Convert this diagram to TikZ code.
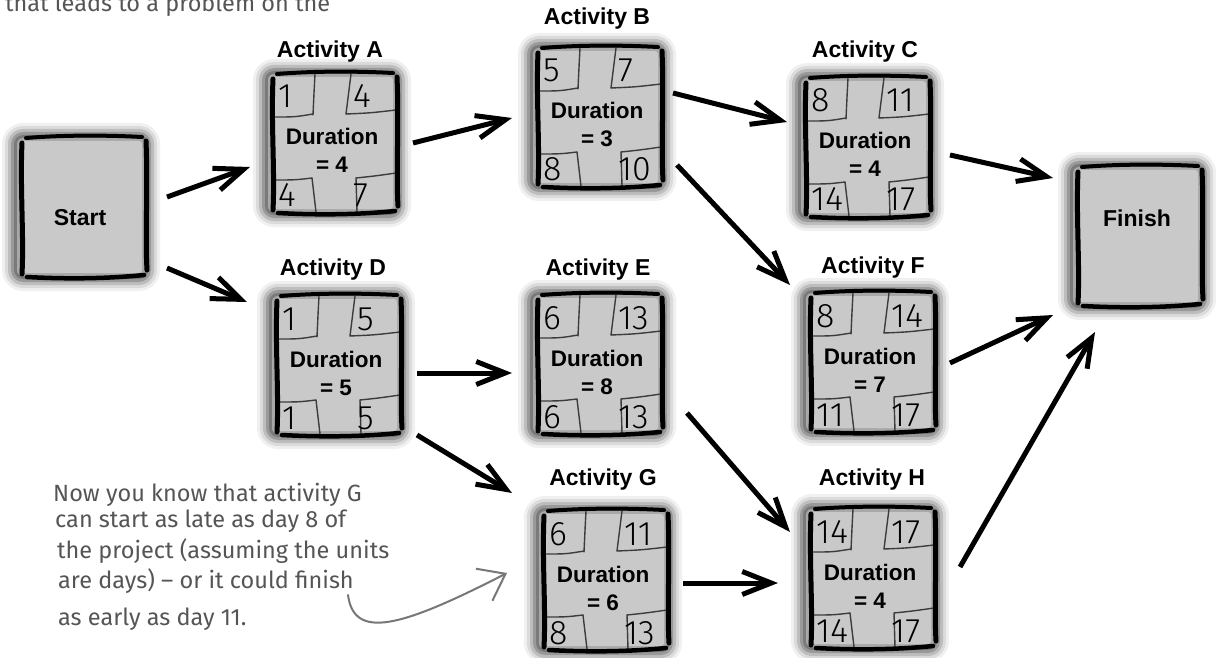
\documentclass[tikz,border=0pt]{standalone}
\usepackage{fontspec}
\setmainfont{Liberation Sans}
\newfontfamily\numfont{Fira Sans Light}
\newfontfamily\handfont{Fira Sans}
\usetikzlibrary{arrows.meta,calc}
\definecolor{boxgray}{HTML}{C9C9C9}
\definecolor{cellline}{HTML}{3C3C3C}
\definecolor{notegray}{HTML}{555555}
\definecolor{notearrow}{HTML}{777777}
\tikzset{
  boxnode/.style={rectangle, draw=none, inner sep=0pt, minimum width=126pt, minimum height=142pt},
  ink/.style={black, line cap=round, line join=round},
  cell/.style={cellline, line width=1.4pt, line cap=round},
  actlab/.style={anchor=base, inner sep=0pt, font=\fontsize{23}{27}\selectfont\bfseries},
  durtxt/.style={anchor=base, inner sep=0pt, font=\fontsize{22.5}{27}\selectfont\bfseries},
  num/.style={anchor=base west, inner sep=0pt, font=\numfont\fontsize{34}{38}\selectfont},
  arr/.style={line width=5pt, -{Straight Barb[length=29pt,width=23pt,line width=5pt]}},
  note/.style={anchor=base west, inner sep=0pt, text=notegray, font=\handfont\fontsize{23.5}{31}\selectfont},
}
\newcommand\pmLayer[2]{% offset, colour
  \fill[fill=#2,rounded corners={8+#1}] (-69-#1,-71-#1) rectangle (63+#1,71+#1);
}
\newcommand\pmBody{%
  \pmLayer{13}{black!6}
  \pmLayer{10}{black!14}
  \pmLayer{7}{black!26}
  \pmLayer{4}{black!40}
  \pmLayer{1}{black!52}
  \pmLayer{-2}{black!34}
  \pmLayer{-5}{boxgray}
}
\newcommand\pmFrame{%
  \draw[ink,line width=5pt] (-62,-64) .. controls (-64,-20) and (-60,30) .. (-62,67);
  \draw[ink,line width=5pt] (62,-66) .. controls (64,-20) and (61,30) .. (63,63);
  \draw[ink,line width=4pt] (-58,-69) .. controls (-20,-72) and (20,-72) .. (58,-70);
  \draw[ink,line width=4.5pt] (-57,70) .. controls (-20,72) and (20,72) .. (60,68);
}
\newcommand\pmCells{%
  \draw[cell] (-20,-69) .. controls (-21,-50) .. (-22,-28);
  \draw[cell] (-61,-26) .. controls (-40,-26) .. (-22,-29);
  \draw[cell] (16,-69) -- (11,-29);
  \draw[cell] (11,-29) .. controls (35,-30) .. (61,-33);
  \draw[cell] (-61,37) .. controls (-40,37) .. (-23,35);
  \draw[cell] (-23,35) -- (-19,69);
  \draw[cell] (21,35) .. controls (40,33) .. (61,30);
  \draw[cell] (21,35) -- (22,69);
}
\newcommand\pmAct[8]{%
  \node[boxnode] (#1) at (#2,#3) {};
  \begin{scope}[shift={(#1.center)}]
    \pmBody
    \pmCells
    \pmFrame
    \node[num] (#1-tl) at (-57,-35) {#4};
    \node[num] (#1-tr) at (18,-35) {#5};
    \node[num] (#1-bl) at (-57,64) {#6};
    \node[num] (#1-br) at (18,64) {#7};
    \node[durtxt] (#1-dur) at (-3,2) {Duration};
    \node[durtxt] (#1-eq) at (-3,30) {= #8};
  \end{scope}
}
\begin{document}
\begin{tikzpicture}[x=1pt,y=-1pt]
\useasboundingbox (0,0) rectangle (1216,658);
\fill[white] (0,0) rectangle (1216,658);

% cut-off text at the top
\node[note] (toptext) at (5,12) {that leads to a problem on the};

% start and finish
\node[boxnode] (S) at (84,207) {};
\begin{scope}[shift={(S.center)}]\pmBody\pmFrame\end{scope}
\node[actlab] (S-txt) at (80,225) {Start};

\node[boxnode] (Fi) at (1140,236) {};
\begin{scope}[shift={(Fi.center)}]\pmBody\pmFrame\end{scope}
\node[actlab] (Fi-txt) at (1137,226) {Finish};

% activities
\pmAct{A}{335}{143}{1}{4}{4}{7}{4}
\pmAct{B}{600}{117}{5}{7}{8}{10}{3}
\pmAct{C}{868}{147}{8}{11}{14}{17}{4}
\pmAct{D}{339}{365}{1}{5}{1}{5}{5}
\pmAct{E}{600}{364}{6}{13}{6}{13}{8}
\pmAct{F}{873}{362}{8}{14}{11}{17}{7}
\pmAct{G}{606}{580}{6}{11}{8}{13}{6}
\pmAct{H}{873}{578}{14}{17}{14}{17}{4}

\node[actlab] (A-lab) at (330,58) {Activity A};
\node[actlab] (B-lab) at (597,25) {Activity B};
\node[actlab] (C-lab) at (865,58) {Activity C};
\node[actlab] (D-lab) at (333,275) {Activity D};
\node[actlab] (E-lab) at (598,275) {Activity E};
\node[actlab] (F-lab) at (873,273) {Activity F};
\node[actlab] (G-lab) at (603,485) {Activity G};
\node[actlab] (H-lab) at (872,485) {Activity H};

% connectors
\draw[arr] ([shift={(83,-10)}]S.center) -- ([shift={(-85,24)}]A.center);
\draw[arr] ([shift={(83,61)}]S.center) -- ([shift={(-92,-63)}]D.center);
\draw[arr] ([shift={(78,0)}]A.center) -- ([shift={(-88,1)}]B.center);
\draw[arr] ([shift={(73,-24)}]B.center) -- ([shift={(-81,-25)}]C.center);
\draw[arr] ([shift={(77,48)}]B.center) -- ([shift={(-83,-77)}]F.center);
\draw[arr] ([shift={(82,8)}]C.center) -- ([shift={(-87,-58)}]Fi.center);
\draw[arr] ([shift={(78,8)}]D.center) -- ([shift={(-88,9)}]E.center);
\draw[arr] ([shift={(78,70)}]D.center) -- ([shift={(-94,-87)}]G.center);
\draw[arr] ([shift={(87,49)}]E.center) -- ([shift={(-83,-46)}]H.center);
\draw[arr] ([shift={(77,1)}]F.center) -- ([shift={(-87,79)}]Fi.center);
\draw[arr] ([shift={(77,3)}]G.center) -- ([shift={(-95,5)}]H.center);
\draw[arr] ([shift={(87,-11)}]H.center) -- ([shift={(-45,96)}]Fi.center);

% annotation
\node[note] (note1) at (53,501) {Now you know that activity G};
\node[note] (note2) at (55,527) {can start as late as day 8 of};
\node[note] (note3) at (57,558) {the project (assuming the units};
\node[note] (note4) at (58,588) {are days) – or it could finish};
\node[note] (note5) at (58,625) {as early as day 11.};
\coordinate (ann-s) at (348,595);
\coordinate (ann-t) at (507,573);
\draw[notearrow, line width=2pt, line cap=round,
  -{Straight Barb[length=24pt,width=36pt,line width=2pt]}]
  (ann-s) .. controls (354,640) and (400,628) .. (ann-t);
\end{tikzpicture}
\end{document}
